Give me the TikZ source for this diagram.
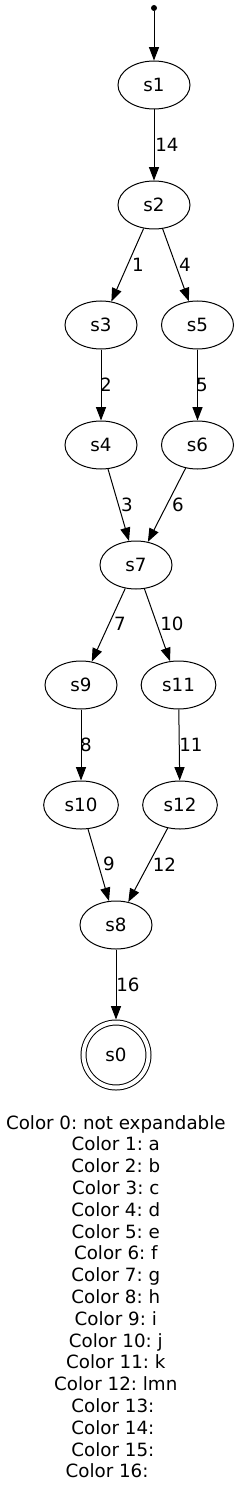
\documentclass[tikz,border=0pt]{standalone}
\usepackage{fontspec}
\setmainfont{DejaVu Sans}
\usetikzlibrary{arrows.meta,shapes.geometric}

\begin{document}
\begin{tikzpicture}[x=0.75pt,y=-0.75pt,line width=0.75pt,
  >={Triangle[length=10pt,width=7.5pt]},
  font=\fontsize{13.7}{16.4}\selectfont,
  st/.style={draw,ellipse,minimum width=54pt,minimum height=36pt,inner sep=1pt},
  widest/.style={st,minimum width=56pt},
  fin/.style={draw,circle,double,double distance=3pt,minimum size=48.75pt,
    inner sep=0pt,outer sep=2.25pt},
  init/.style={circle,fill,inner sep=0pt,minimum size=4.5pt},
  arr/.style={->},
  lab/.style={inner sep=0pt},
  legend/.style={inner sep=0pt,anchor=base}]
\path[use as bounding box] (0,0) rectangle (239,1501);
\node[init] (i0) at (154,8) {};
\node[st] (s1) at (154,85) {s1};
\node[st] (s2) at (154,205) {s2};
\node[st] (s3) at (101,325) {s3};
\node[st] (s5) at (197.5,325) {s5};
\node[st] (s4) at (101,445) {s4};
\node[st] (s6) at (197.5,445) {s6};
\node[st] (s7) at (136,565) {s7};
\node[st] (s9) at (81,685) {s9};
\node[widest] (s11) at (178.5,685) {s11};
\node[widest] (s10) at (81,805) {s10};
\node[widest] (s12) at (180,805) {s12};
\node[st] (s8) at (116,925) {s8};
\node[fin] (s0) at (116,1055) {s0};
\draw[arr] (i0) -- (s1);
\draw[arr] (s1) -- (s2);
\draw[arr] (s2) -- (s3);
\draw[arr] (s2) -- (s5);
\draw[arr] (s3) -- (s4);
\draw[arr] (s5) -- (s6);
\draw[arr] (s4) -- (s7);
\draw[arr] (s6) -- (s7);
\draw[arr] (s7) -- (s9);
\draw[arr] (s7) -- (s11);
\draw[arr] (s9) -- (s10);
\draw[arr] (s11) -- (s12);
\draw[arr] (s10) -- (s8);
\draw[arr] (s12) -- (s8);
\draw[arr] (s8) -- (s0);
% edge labels
\node[lab] (l14) at (167,144.5) {14};
\node[lab] (l1) at (138,265) {1};
\node[lab] (l4) at (185,265) {4};
\node[lab] (l2) at (106,385) {2};
\node[lab] (l5) at (202,385) {5};
\node[lab] (l3) at (127,505) {3};
\node[lab] (l6) at (178,505) {6};
\node[lab] (l7) at (120,624) {7};
\node[lab] (l10) at (172,624) {10};
\node[lab] (l8) at (86,745) {8};
\node[lab] (l11) at (191,745) {11};
\node[lab] (l9) at (109,864) {9};
\node[lab] (l12) at (164.5,865) {12};
\node[lab] (l16) at (128,985) {16};
% legend
\foreach \i/\t in {0/not expandable,1/a,2/b,3/c,4/d,5/e,6/f,7/g,8/h,9/i,
    10/j,11/k,12/lmn,13/\kern0pt,14/\kern0pt,15/\kern0pt,16/\kern.64em}
  \node[legend] (leg\i) at (115.8,{1129+21.8*\i}) {Color \i:~\t};
\end{tikzpicture}
\end{document}
